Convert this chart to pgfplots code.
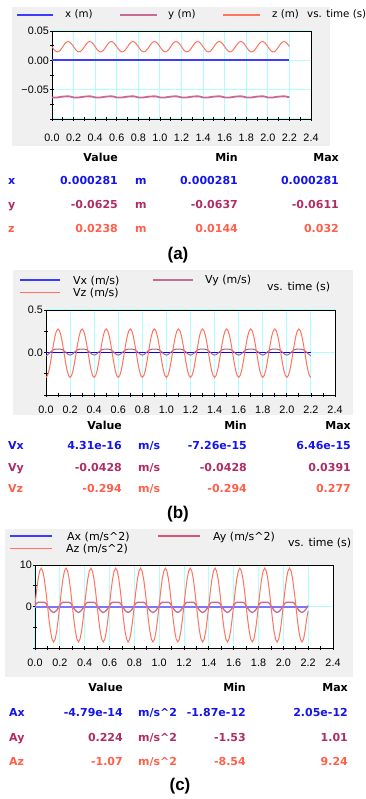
\documentclass[border=0pt]{standalone}
\usepackage{pgfplots}
\pgfplotsset{compat=1.18}
\usepackage{pgfplotstable}
\usepackage{fontspec}
\setmainfont{Liberation Sans}
\newfontfamily\dvs{DejaVu Sans}
\definecolor{bgc}{RGB}{240,240,240}
\definecolor{gridc}{RGB}{175,255,255}
\definecolor{blueT}{RGB}{20,20,235}
\definecolor{purpT}{RGB}{175,45,100}
\definecolor{salmT}{RGB}{255,95,75}
\definecolor{blueL}{RGB}{60,60,255}
\definecolor{purpL}{RGB}{200,105,150}
\definecolor{salmL}{RGB}{255,115,95}

\pgfplotstableread{
t y z vy vz ay az
0 -0.0632 0.0232 -0.0428 -0.294 0.20 0.35
0.0125 -0.0634 0.0198 -0.025 -0.271 0.80 3.75
0.025 -0.0635 0.0170 -0.012 -0.210 1.00 6.64
0.0375 -0.0634 0.0151 0.005 -0.117 1.00 8.56
0.05 -0.0632 0.0144 0.020 -0.008 1.01 9.24
0.0625 -0.0629 0.0151 0.033 0.101 1.00 8.56
0.075 -0.0625 0.0170 0.038 0.194 1.00 6.64
0.0875 -0.0622 0.0198 0.039 0.255 0.80 3.75
0.1 -0.0619 0.0232 0.039 0.277 0.20 0.35
0.1125 -0.0617 0.0266 0.039 0.255 -0.40 -3.05
0.125 -0.0615 0.0294 0.038 0.194 -0.90 -5.94
0.1375 -0.0614 0.0313 0.033 0.101 -1.25 -7.86
0.15 -0.0614 0.0320 0.020 -0.008 -1.45 -8.54
0.1625 -0.0615 0.0313 0.005 -0.117 -1.25 -7.86
0.175 -0.0620 0.0294 -0.012 -0.210 -0.90 -5.94
0.1875 -0.0626 0.0266 -0.025 -0.271 -0.40 -3.05
0.2 -0.0632 0.0232 -0.030 -0.293 0.20 0.35
0.2125 -0.0634 0.0198 -0.025 -0.271 0.80 3.75
0.225 -0.0635 0.0170 -0.012 -0.210 1.00 6.64
0.2375 -0.0634 0.0151 0.005 -0.117 1.00 8.56
0.25 -0.0632 0.0144 0.020 -0.008 1.01 9.24
0.2625 -0.0629 0.0151 0.033 0.101 1.00 8.56
0.275 -0.0625 0.0170 0.038 0.194 1.00 6.64
0.2875 -0.0622 0.0198 0.039 0.255 0.80 3.75
0.3 -0.0619 0.0232 0.039 0.277 0.20 0.35
0.3125 -0.0617 0.0266 0.039 0.255 -0.40 -3.05
0.325 -0.0615 0.0294 0.038 0.194 -0.90 -5.94
0.3375 -0.0614 0.0313 0.033 0.101 -1.25 -7.86
0.35 -0.0614 0.0320 0.020 -0.008 -1.45 -8.54
0.3625 -0.0615 0.0313 0.005 -0.117 -1.25 -7.86
0.375 -0.0620 0.0294 -0.012 -0.210 -0.90 -5.94
0.3875 -0.0626 0.0266 -0.025 -0.271 -0.40 -3.05
0.4 -0.0632 0.0232 -0.030 -0.293 0.20 0.35
0.4125 -0.0634 0.0198 -0.025 -0.271 0.80 3.75
0.425 -0.0635 0.0170 -0.012 -0.210 1.00 6.64
0.4375 -0.0634 0.0151 0.005 -0.117 1.00 8.56
0.45 -0.0632 0.0144 0.020 -0.008 1.01 9.24
0.4625 -0.0629 0.0151 0.033 0.101 1.00 8.56
0.475 -0.0625 0.0170 0.038 0.194 1.00 6.64
0.4875 -0.0622 0.0198 0.039 0.255 0.80 3.75
0.5 -0.0619 0.0232 0.039 0.277 0.20 0.35
0.5125 -0.0617 0.0266 0.039 0.255 -0.40 -3.05
0.525 -0.0615 0.0294 0.038 0.194 -0.90 -5.94
0.5375 -0.0614 0.0313 0.033 0.101 -1.25 -7.86
0.55 -0.0614 0.0320 0.020 -0.008 -1.45 -8.54
0.5625 -0.0615 0.0313 0.005 -0.117 -1.25 -7.86
0.575 -0.0620 0.0294 -0.012 -0.210 -0.90 -5.94
0.5875 -0.0626 0.0266 -0.025 -0.271 -0.40 -3.05
0.6 -0.0632 0.0232 -0.030 -0.293 0.20 0.35
0.6125 -0.0634 0.0198 -0.025 -0.271 0.80 3.75
0.625 -0.0635 0.0170 -0.012 -0.210 1.00 6.64
0.6375 -0.0634 0.0151 0.005 -0.117 1.00 8.56
0.65 -0.0632 0.0144 0.020 -0.008 1.01 9.24
0.6625 -0.0629 0.0151 0.033 0.101 1.00 8.56
0.675 -0.0625 0.0170 0.038 0.194 1.00 6.64
0.6875 -0.0622 0.0198 0.039 0.255 0.80 3.75
0.7 -0.0619 0.0232 0.039 0.277 0.20 0.35
0.7125 -0.0617 0.0266 0.039 0.255 -0.40 -3.05
0.725 -0.0615 0.0294 0.038 0.194 -0.90 -5.94
0.7375 -0.0614 0.0313 0.033 0.101 -1.25 -7.86
0.75 -0.0614 0.0320 0.020 -0.008 -1.45 -8.54
0.7625 -0.0615 0.0313 0.005 -0.117 -1.25 -7.86
0.775 -0.0620 0.0294 -0.012 -0.210 -0.90 -5.94
0.7875 -0.0626 0.0266 -0.025 -0.271 -0.40 -3.05
0.8 -0.0632 0.0232 -0.030 -0.293 0.20 0.35
0.8125 -0.0634 0.0198 -0.025 -0.271 0.80 3.75
0.825 -0.0635 0.0170 -0.012 -0.210 1.00 6.64
0.8375 -0.0634 0.0151 0.005 -0.117 1.00 8.56
0.85 -0.0632 0.0144 0.020 -0.008 1.01 9.24
0.8625 -0.0629 0.0151 0.033 0.101 1.00 8.56
0.875 -0.0625 0.0170 0.038 0.194 1.00 6.64
0.8875 -0.0622 0.0198 0.039 0.255 0.80 3.75
0.9 -0.0619 0.0232 0.039 0.277 0.20 0.35
0.9125 -0.0617 0.0266 0.039 0.255 -0.40 -3.05
0.925 -0.0615 0.0294 0.038 0.194 -0.90 -5.94
0.9375 -0.0614 0.0313 0.033 0.101 -1.25 -7.86
0.95 -0.0614 0.0320 0.020 -0.008 -1.45 -8.54
0.9625 -0.0615 0.0313 0.005 -0.117 -1.25 -7.86
0.975 -0.0620 0.0294 -0.012 -0.210 -0.90 -5.94
0.9875 -0.0626 0.0266 -0.025 -0.271 -0.40 -3.05
1.0 -0.0632 0.0232 -0.030 -0.293 0.20 0.35
1.0125 -0.0634 0.0198 -0.025 -0.271 0.80 3.75
1.025 -0.0635 0.0170 -0.012 -0.210 1.00 6.64
1.0375 -0.0634 0.0151 0.005 -0.117 1.00 8.56
1.05 -0.0632 0.0144 0.020 -0.008 1.01 9.24
1.0625 -0.0629 0.0151 0.033 0.101 1.00 8.56
1.075 -0.0625 0.0170 0.038 0.194 1.00 6.64
1.0875 -0.0622 0.0198 0.039 0.255 0.80 3.75
1.1 -0.0619 0.0232 0.039 0.277 0.20 0.35
1.1125 -0.0617 0.0266 0.039 0.255 -0.40 -3.05
1.125 -0.0615 0.0294 0.038 0.194 -0.90 -5.94
1.1375 -0.0614 0.0313 0.033 0.101 -1.25 -7.86
1.15 -0.0614 0.0320 0.020 -0.008 -1.45 -8.54
1.1625 -0.0615 0.0313 0.005 -0.117 -1.25 -7.86
1.175 -0.0620 0.0294 -0.012 -0.210 -0.90 -5.94
1.1875 -0.0626 0.0266 -0.025 -0.271 -0.40 -3.05
1.2 -0.0632 0.0232 -0.030 -0.293 0.20 0.35
1.2125 -0.0634 0.0198 -0.025 -0.271 0.80 3.75
1.225 -0.0635 0.0170 -0.012 -0.210 1.00 6.64
1.2375 -0.0634 0.0151 0.005 -0.117 1.00 8.56
1.25 -0.0632 0.0144 0.020 -0.008 1.01 9.24
1.2625 -0.0629 0.0151 0.033 0.101 1.00 8.56
1.275 -0.0625 0.0170 0.038 0.194 1.00 6.64
1.2875 -0.0622 0.0198 0.039 0.255 0.80 3.75
1.3 -0.0619 0.0232 0.039 0.277 0.20 0.35
1.3125 -0.0617 0.0266 0.039 0.255 -0.40 -3.05
1.325 -0.0615 0.0294 0.038 0.194 -0.90 -5.94
1.3375 -0.0614 0.0313 0.033 0.101 -1.25 -7.86
1.35 -0.0614 0.0320 0.020 -0.008 -1.45 -8.54
1.3625 -0.0615 0.0313 0.005 -0.117 -1.25 -7.86
1.375 -0.0620 0.0294 -0.012 -0.210 -0.90 -5.94
1.3875 -0.0626 0.0266 -0.025 -0.271 -0.40 -3.05
1.4 -0.0632 0.0232 -0.030 -0.293 0.20 0.35
1.4125 -0.0634 0.0198 -0.025 -0.271 0.80 3.75
1.425 -0.0635 0.0170 -0.012 -0.210 1.00 6.64
1.4375 -0.0634 0.0151 0.005 -0.117 1.00 8.56
1.45 -0.0632 0.0144 0.020 -0.008 1.01 9.24
1.4625 -0.0629 0.0151 0.033 0.101 1.00 8.56
1.475 -0.0625 0.0170 0.038 0.194 1.00 6.64
1.4875 -0.0622 0.0198 0.039 0.255 0.80 3.75
1.5 -0.0619 0.0232 0.039 0.277 0.20 0.35
1.5125 -0.0617 0.0266 0.039 0.255 -0.40 -3.05
1.525 -0.0615 0.0294 0.038 0.194 -0.90 -5.94
1.5375 -0.0614 0.0313 0.033 0.101 -1.25 -7.86
1.55 -0.0614 0.0320 0.020 -0.008 -1.45 -8.54
1.5625 -0.0615 0.0313 0.005 -0.117 -1.25 -7.86
1.575 -0.0620 0.0294 -0.012 -0.210 -0.90 -5.94
1.5875 -0.0626 0.0266 -0.025 -0.271 -0.40 -3.05
1.6 -0.0632 0.0232 -0.030 -0.293 0.20 0.35
1.6125 -0.0634 0.0198 -0.025 -0.271 0.80 3.75
1.625 -0.0635 0.0170 -0.012 -0.210 1.00 6.64
1.6375 -0.0634 0.0151 0.005 -0.117 1.00 8.56
1.65 -0.0632 0.0144 0.020 -0.008 1.01 9.24
1.6625 -0.0629 0.0151 0.033 0.101 1.00 8.56
1.675 -0.0625 0.0170 0.038 0.194 1.00 6.64
1.6875 -0.0622 0.0198 0.039 0.255 0.80 3.75
1.7 -0.0619 0.0232 0.039 0.277 0.20 0.35
1.7125 -0.0617 0.0266 0.039 0.255 -0.40 -3.05
1.725 -0.0615 0.0294 0.038 0.194 -0.90 -5.94
1.7375 -0.0614 0.0313 0.033 0.101 -1.25 -7.86
1.75 -0.0614 0.0320 0.020 -0.008 -1.45 -8.54
1.7625 -0.0615 0.0313 0.005 -0.117 -1.25 -7.86
1.775 -0.0620 0.0294 -0.012 -0.210 -0.90 -5.94
1.7875 -0.0626 0.0266 -0.025 -0.271 -0.40 -3.05
1.8 -0.0632 0.0232 -0.030 -0.293 0.20 0.35
1.8125 -0.0634 0.0198 -0.025 -0.271 0.80 3.75
1.825 -0.0635 0.0170 -0.012 -0.210 1.00 6.64
1.8375 -0.0634 0.0151 0.005 -0.117 1.00 8.56
1.85 -0.0632 0.0144 0.020 -0.008 1.01 9.24
1.8625 -0.0629 0.0151 0.033 0.101 1.00 8.56
1.875 -0.0625 0.0170 0.038 0.194 1.00 6.64
1.8875 -0.0622 0.0198 0.039 0.255 0.80 3.75
1.9 -0.0619 0.0232 0.039 0.277 0.20 0.35
1.9125 -0.0617 0.0266 0.039 0.255 -0.40 -3.05
1.925 -0.0615 0.0294 0.038 0.194 -0.90 -5.94
1.9375 -0.0614 0.0313 0.033 0.101 -1.25 -7.86
1.95 -0.0614 0.0320 0.020 -0.008 -1.45 -8.54
1.9625 -0.0615 0.0313 0.005 -0.117 -1.25 -7.86
1.975 -0.0620 0.0294 -0.012 -0.210 -0.90 -5.94
1.9875 -0.0626 0.0266 -0.025 -0.271 -0.40 -3.05
2.0 -0.0632 0.0232 -0.030 -0.293 0.20 0.35
2.0125 -0.0634 0.0198 -0.025 -0.271 0.80 3.75
2.025 -0.0635 0.0170 -0.012 -0.210 1.00 6.64
2.0375 -0.0634 0.0151 0.005 -0.117 1.00 8.56
2.05 -0.0632 0.0144 0.020 -0.008 1.01 9.24
2.0625 -0.0629 0.0151 0.033 0.101 1.00 8.56
2.075 -0.0625 0.0170 0.038 0.194 1.00 6.64
2.0875 -0.0622 0.0198 0.039 0.255 0.80 3.75
2.1 -0.0619 0.0232 0.039 0.277 0.20 0.35
2.1125 -0.0617 0.0266 0.039 0.255 -0.40 -3.05
2.125 -0.0615 0.0294 0.038 0.194 -0.90 -5.94
2.1375 -0.0614 0.0313 0.033 0.101 -1.25 -7.86
2.15 -0.0614 0.0320 0.020 -0.008 -1.45 -8.54
2.1625 -0.0615 0.0313 0.005 -0.117 -1.25 -7.86
2.175 -0.0620 0.0294 -0.012 -0.210 -0.90 -5.94
2.1875 -0.0626 0.0266 -0.025 -0.271 -0.40 -3.05
2.2 -0.0625 0.0238 -0.0428 -0.294 0.224 -1.07
}\data

\pgfplotsset{
  panel/.style={
    scale only axis, xmin=0, xmax=2.4,
    axis background/.style={fill=white},
    xtick={0,0.2,0.4,0.6,0.8,1.0,1.2,1.4,1.6,1.8,2.0,2.2,2.4},
    xticklabels={0.0,0.2,0.4,0.6,0.8,1.0,1.2,1.4,1.6,1.8,2.0,2.2,2.4},
    minor xtick={0.1,0.3,0.5,0.7,0.9,1.1,1.3,1.5,1.7,1.9,2.1,2.3},
    xmajorgrids, ymajorgrids,
    major grid style={gridc, line width=1pt},
    xtick pos=bottom, ytick pos=left,
    tick align=center, major tick length=4pt, minor tick length=4pt,
    every tick/.style={black, line width=0.8pt},
    axis line style={black, line width=0.8pt},
    scaled y ticks=false,
    tick label style={font=\fontsize{10.8}{12}\selectfont, inner sep=0pt},
    yticklabel style={anchor=east, xshift=-1pt},
  },
}

\begin{document}
\begin{tikzpicture}[x=1pt,y=1pt]
\useasboundingbox (0,0) rectangle (366,-799);
% ---------- backgrounds
\fill[bgc] (12,-7) rectangle (330,-146);
\fill[bgc] (13,-270) rectangle (353,-415);
\fill[bgc] (5,-529) rectangle (353,-677);

% ---------- panel (a)
\begin{axis}[panel, at={(52pt,-119pt)}, anchor=south west,
  width=259pt, height=88pt, ymin=-0.1, ymax=0.05,
  ytick={-0.1,-0.05,0,0.05}, yticklabels={,−0.05,0.00,0.05},
  minor ytick={-0.075,-0.025,0.025},
  xticklabel style={anchor=base, yshift=-21pt}]
\addplot[blueL, line width=1.5pt] coordinates {(0,0.000281) (2.2,0.000281)};
\addplot[purpL, line width=1.8pt] table[x=t, y=y] {\data};
\addplot[salmL, line width=1pt] table[x=t, y=z] {\data};
\end{axis}
\begin{scope}[font=\dvs\fontsize{10.3}{12}\selectfont, every node/.style={inner sep=0pt, anchor=base west}]
\draw[blueL, line width=1.2pt] (17,-15) -- (53,-15);
\node at (65,-18) {x (m)};
\draw[purpL, line width=1.2pt] (120,-15) -- (157,-15);
\node at (168,-18) {y (m)};
\draw[salmL, line width=1.2pt] (223,-15) -- (260,-15);
\node at (272,-18) {z (m)};
\node at (307,-18) {vs. time (s)};
\end{scope}
\begin{scope}[font=\dvs\bfseries\fontsize{11}{13}\selectfont, every node/.style={inner sep=0pt, anchor=base east}]
\node at (118,-162) {Value};
\node at (238,-162) {Min};
\node at (339,-162) {Max};
\node[blueT, anchor=base west] at (8,-185) {x};
\node[blueT] at (118,-185) {0.000281};
\node[blueT, anchor=base west] at (135,-185) {m};
\node[blueT] at (238,-185) {0.000281};
\node[blueT] at (339,-185) {0.000281};
\node[purpT, anchor=base west] at (8,-209) {y};
\node[purpT] at (118,-209) {-0.0625};
\node[purpT, anchor=base west] at (135,-209) {m};
\node[purpT] at (238,-209) {-0.0637};
\node[purpT] at (339,-209) {-0.0611};
\node[salmT, anchor=base west] at (8,-233) {z};
\node[salmT] at (118,-233) {0.0238};
\node[salmT, anchor=base west] at (135,-233) {m};
\node[salmT] at (238,-233) {0.0144};
\node[salmT] at (339,-233) {0.032};
\end{scope}
\node[font=\bfseries\fontsize{17}{19}\selectfont, inner sep=0pt, anchor=base] at (178,-260) {(a)};

% ---------- panel (b)
\begin{axis}[panel, at={(46pt,-395pt)}, anchor=south west,
  width=289pt, height=85pt, ymin=-0.5, ymax=0.5,
  ytick={-0.5,0,0.5}, yticklabels={,0.0,0.5},
  minor ytick={-0.25,0.25},
  xticklabel style={anchor=base, yshift=-16pt}]
\addplot[blue, line width=1.4pt] coordinates {(0,0) (2.2,0)};
\addplot[purpL!90!black, line width=1pt] table[x=t, y=vy] {\data};
\addplot[salmL, line width=1pt] table[x=t, y=vz] {\data};
\end{axis}
\begin{scope}[font=\dvs\fontsize{11}{13}\selectfont, every node/.style={inner sep=0pt, anchor=base west}]
\draw[blueL, line width=1.2pt] (20,-280) -- (60,-280);
\node at (73,-284.5) {Vx (m/s)};
\draw[purpL, line width=1.2pt] (153,-280) -- (193,-280);
\node at (205,-283.5) {Vy (m/s)};
\draw[salmL, line width=1.2pt] (20,-292.3) -- (60,-292.3);
\node at (73,-296.5) {Vz (m/s)};
\node at (267,-290) {vs. time (s)};
\end{scope}
\begin{scope}[font=\dvs\bfseries\fontsize{11}{13}\selectfont, every node/.style={inner sep=0pt, anchor=base east}]
\node at (122,-429) {Value};
\node at (247,-429) {Min};
\node at (351,-429) {Max};
\node[blueT, anchor=base west] at (8,-449) {Vx};
\node[blueT] at (122,-449) {4.31e-16};
\node[blueT, anchor=base west] at (138,-449) {m/s};
\node[blueT] at (247,-449) {-7.26e-15};
\node[blueT] at (351,-449) {6.46e-15};
\node[purpT, anchor=base west] at (8,-471) {Vy};
\node[purpT] at (122,-471) {-0.0428};
\node[purpT, anchor=base west] at (138,-471) {m/s};
\node[purpT] at (247,-471) {-0.0428};
\node[purpT] at (351,-471) {0.0391};
\node[salmT, anchor=base west] at (8,-492) {Vz};
\node[salmT] at (122,-492) {-0.294};
\node[salmT, anchor=base west] at (138,-492) {m/s};
\node[salmT] at (247,-492) {-0.294};
\node[salmT] at (351,-492) {0.277};
\end{scope}
\node[font=\bfseries\fontsize{17}{19}\selectfont, inner sep=0pt, anchor=base] at (178,-518) {(b)};

% ---------- panel (c)
\begin{axis}[panel, at={(35pt,-648pt)}, anchor=south west,
  width=298pt, height=83pt, ymin=-10, ymax=10,
  ytick={-10,0,10}, yticklabels={,0,10},
  minor ytick={-5,5},
  xticklabel style={anchor=base, yshift=-16pt}]
\addplot[blueL!70!white, line width=2pt] coordinates {(0,0) (2.2,0)};
\addplot[purpL, line width=1.3pt] table[x=t, y=ay] {\data};
\addplot[salmL, line width=1pt] table[x=t, y=az] {\data};
\end{axis}
\begin{scope}[font=\dvs\fontsize{11}{13}\selectfont, every node/.style={inner sep=0pt, anchor=base west}]
\draw[blueL, line width=1.2pt] (10,-536) -- (52,-536);
\node at (67,-540.3) {Ax (m/s\textasciicircum 2)};
\draw[purpL!80!red, line width=1.2pt] (158,-536) -- (200,-536);
\node at (213,-540.3) {Ay (m/s\textasciicircum 2)};
\draw[salmL, line width=1.2pt] (10,-548.3) -- (52,-548.3);
\node at (66,-552.6) {Az (m/s\textasciicircum 2)};
\node at (288,-546.6) {vs. time (s)};
\end{scope}
\begin{scope}[font=\dvs\bfseries\fontsize{11}{13}\selectfont, every node/.style={inner sep=0pt, anchor=base east}]
\node at (123,-691) {Value};
\node at (246,-691) {Min};
\node at (348,-691) {Max};
\node[blueT, anchor=base west] at (9,-716) {Ax};
\node[blueT] at (123,-716) {-4.79e-14};
\node[blueT, anchor=base west] at (138,-716) {m/s\textasciicircum 2};
\node[blueT] at (246,-716) {-1.87e-12};
\node[blueT] at (348,-716) {2.05e-12};
\node[purpT, anchor=base west] at (9,-741) {Ay};
\node[purpT] at (123,-741) {0.224};
\node[purpT, anchor=base west] at (138,-741) {m/s\textasciicircum 2};
\node[purpT] at (246,-741) {-1.53};
\node[purpT] at (348,-741) {1.01};
\node[salmT, anchor=base west] at (9,-765) {Az};
\node[salmT] at (123,-765) {-1.07};
\node[salmT, anchor=base west] at (138,-765) {m/s\textasciicircum 2};
\node[salmT] at (246,-765) {-8.54};
\node[salmT] at (348,-765) {9.24};
\end{scope}
\node[font=\bfseries\fontsize{17}{19}\selectfont, inner sep=0pt, anchor=base] at (180,-790) {(c)};
\end{tikzpicture}
\end{document}
